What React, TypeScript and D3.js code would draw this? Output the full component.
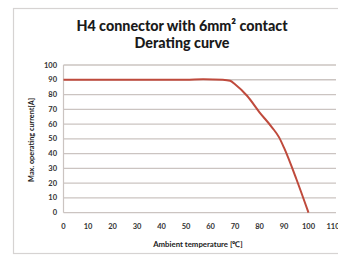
import React, { useEffect, useRef } from 'react';
import * as d3 from 'd3';

// derating curve
const temps = [0, 10, 20, 30, 40, 50, 57, 65, 68, 70, 75, 80, 85, 88, 90, 95, 100];
const currents = [90, 90, 90, 90, 90, 90, 90.4, 90, 89.3, 87, 79, 68, 58, 51, 44, 23, 0];
const xTicks = [0, 10, 20, 30, 40, 50, 60, 70, 80, 90, 100, 110];
const yTicks = [0, 10, 20, 30, 40, 50, 60, 70, 80, 90, 100];

const W = 338;
const H = 258;
const font = 'Lato, "Open Sans", sans-serif';

const App = () => {
  const svgRef = useRef<SVGSVGElement>(null);

  useEffect(() => {
    const svg = d3.select(svgRef.current);
    svg.selectAll('*').remove();

    const x = d3.scaleLinear().domain([0, 110]).range([63.5, 333]);
    const y = d3.scaleLinear().domain([0, 100]).range([212.7, 65]);

    svg.append('rect').attr('width', W).attr('height', H).attr('fill', '#fff');

    // outer chart frame
    svg.append('rect')
      .attr('x', 13.5).attr('y', 8.5)
      .attr('width', 340).attr('height', 245)
      .attr('fill', 'none').attr('stroke', '#d6d3d2').attr('stroke-width', 1.2);

    // title
    const title = svg.append('text')
      .attr('text-anchor', 'middle')
      .attr('font-family', font).attr('font-weight', 900)
      .attr('font-size', 14.3).attr('fill', '#1a1a1a');
    title.append('tspan').attr('x', 182).attr('y', 31).text('H4 connector with 6mm² contact');
    title.append('tspan').attr('x', 182).attr('y', 48).text('Derating curve');

    // gridlines
    svg.append('g').selectAll('line')
      .data(yTicks)
      .join('line')
      .attr('x1', x(0)).attr('x2', 336)
      .attr('y1', d => y(d)).attr('y2', d => y(d))
      .attr('stroke', '#cbc4c1').attr('stroke-width', 1.3);

    svg.append('line')
      .attr('x1', x(0)).attr('x2', x(0))
      .attr('y1', y(100)).attr('y2', y(0))
      .attr('stroke', '#cbc4c1').attr('stroke-width', 1.2);

    // tick labels
    svg.append('g').selectAll('text')
      .data(yTicks)
      .join('text')
      .attr('x', 57).attr('y', d => y(d) + 2.5)
      .attr('text-anchor', 'end')
      .attr('font-family', font).attr('font-weight', 700)
      .attr('font-size', 7.5).attr('fill', '#333')
      .text(d => d);

    svg.append('g').selectAll('text')
      .data(xTicks)
      .join('text')
      .attr('x', d => x(d)).attr('y', 229)
      .attr('text-anchor', 'middle')
      .attr('font-family', font).attr('font-weight', 700)
      .attr('font-size', 7.5).attr('fill', '#333')
      .text(d => d);

    // axis titles
    svg.append('text')
      .attr('transform', `translate(34,140) rotate(-90)`)
      .attr('text-anchor', 'middle')
      .attr('font-family', font).attr('font-weight', 700)
      .attr('font-size', 7.3).attr('fill', '#222')
      .text('Max. operating current[A]');

    svg.append('text')
      .attr('x', 198).attr('y', 247)
      .attr('text-anchor', 'middle')
      .attr('font-family', font).attr('font-weight', 700)
      .attr('font-size', 7.8).attr('fill', '#222')
      .text('Ambient temperature [℃]');

    // derating line
    const line = d3.line<number>()
      .x((d, i) => x(temps[i]))
      .y(d => y(d))
      .curve(d3.curveMonotoneX);

    svg.append('path')
      .datum(currents)
      .attr('d', line)
      .attr('fill', 'none')
      .attr('stroke', '#bf4a3c')
      .attr('stroke-width', 2);
  }, []);

  return (
    <svg ref={svgRef} width={W} height={H}
      style={{ position: 'absolute', left: 0, top: 0, display: 'block' }} />
  );
};

export default App;
